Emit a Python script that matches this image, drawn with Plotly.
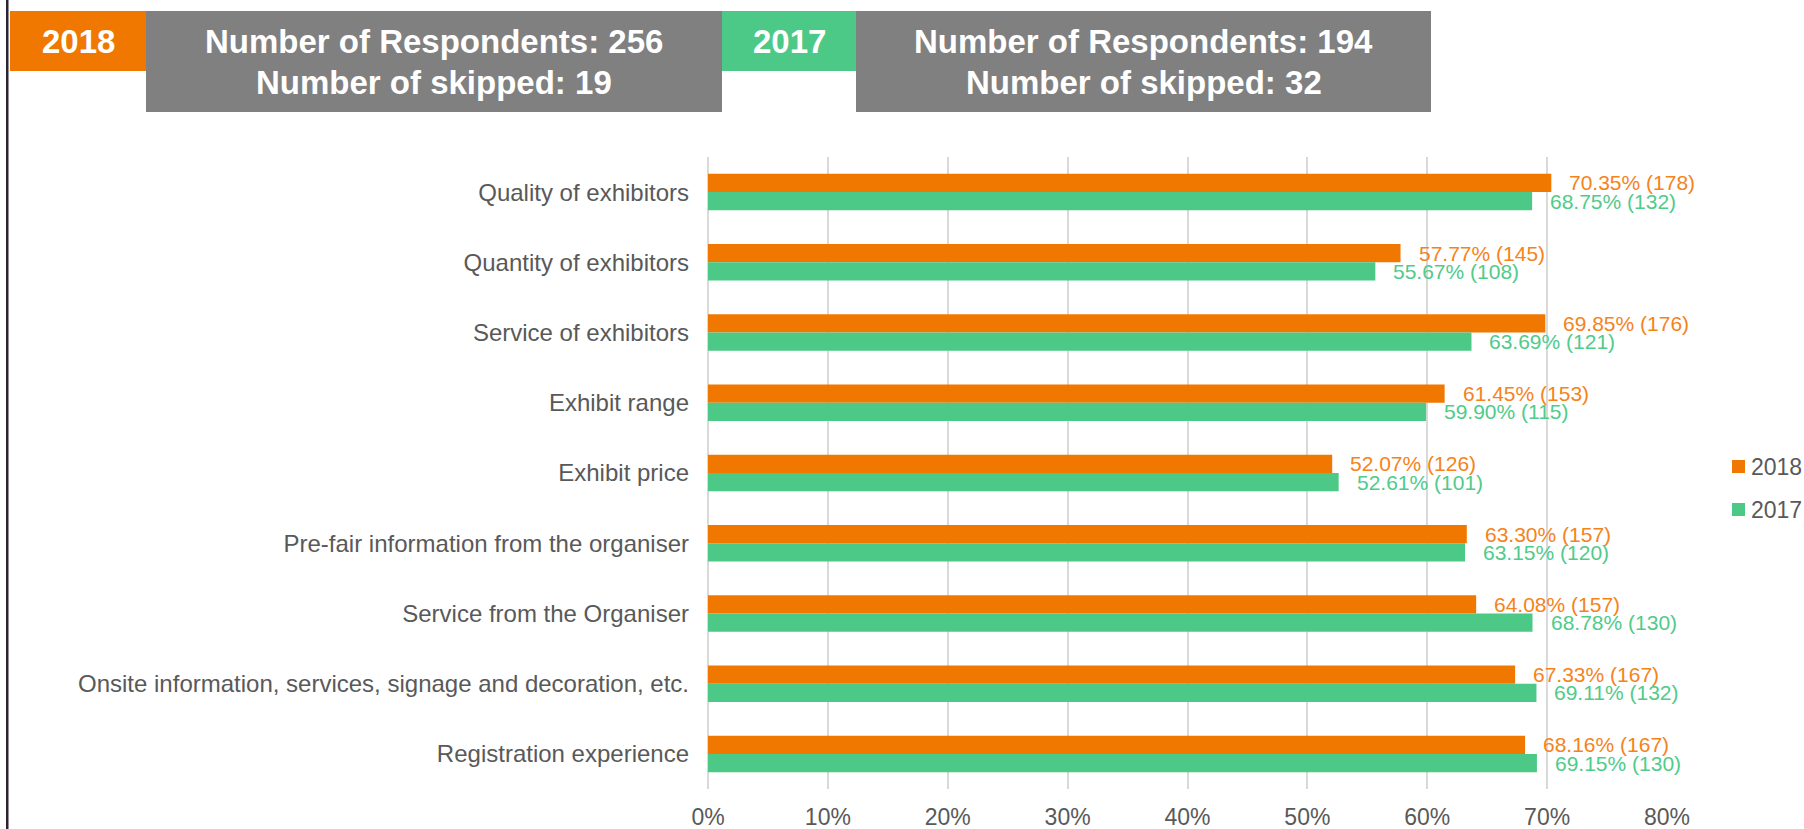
import plotly.graph_objects as go

# Survey satisfaction items, listed top to bottom
categories = [
    "Quality of exhibitors",
    "Quantity of exhibitors",
    "Service of exhibitors",
    "Exhibit range",
    "Exhibit price",
    "Pre-fair information from the organiser",
    "Service from the Organiser",
    "Onsite information, services, signage and decoration, etc.",
    "Registration experience",
]

pct_2018 = [70.35, 57.77, 69.85, 61.45, 52.07, 63.30, 64.08, 67.33, 68.16]
cnt_2018 = [178, 145, 176, 153, 126, 157, 157, 167, 167]

pct_2017 = [68.75, 55.67, 63.69, 59.90, 52.61, 63.15, 68.78, 69.11, 69.15]
cnt_2017 = [132, 108, 121, 115, 101, 120, 130, 132, 130]

tick_values = [0, 10, 20, 30, 40, 50, 60, 70, 80]
tick_labels = ["0%", "10%", "20%", "30%", "40%", "50%", "60%", "70%", "80%"]

years = ["2018", "2017"]
respondents = {"2018": 256, "2017": 194}
skipped = {"2018": 19, "2017": 32}

ORANGE = "#F07800"
GREEN = "#4CC986"
ORANGE_TXT = "#F5831A"
GREEN_TXT = "#4FCB8A"
GREY_BOX = "#808080"
TEXT_GREY = "#595959"
FONT = "Liberation Sans, Arial, sans-serif"

W, H = 1804, 829
ML, MR, MT, MB = 708, 137, 157, 40
PW, PH = W - ML - MR, H - MT - MB
BARGAP = 0.48


def px_x(x):
    return (x - ML) / PW


def px_y(y):
    return 1 - (y - MT) / PH


fig = go.Figure()
fig.add_trace(go.Bar(
    name="2018", y=categories, x=pct_2018, orientation="h",
    marker=dict(color=ORANGE, line=dict(width=0)),
    hoverinfo="skip", showlegend=False,
))
fig.add_trace(go.Bar(
    name="2017", y=categories, x=pct_2017, orientation="h",
    marker=dict(color=GREEN, line=dict(width=0)),
    hoverinfo="skip", showlegend=False,
))

# value labels just right of each bar, centred on its own bar
band = PH / len(categories)
half_bar = band * (1 - BARGAP) / 4
annotations = []
for pcts, cnts, colour, shift in [
    (pct_2018, cnt_2018, ORANGE_TXT, half_bar),
    (pct_2017, cnt_2017, GREEN_TXT, -half_bar),
]:
    for cat, p, n in zip(categories, pcts, cnts):
        annotations.append(dict(
            xref="x", yref="y", x=p, y=cat, text=f"{p:.2f}% ({n})",
            showarrow=False, xanchor="left", yanchor="middle",
            xshift=16, yshift=shift,
            font=dict(family=FONT, size=21, color=colour)))

shapes = [
    # dark frame line on the left edge
    dict(type="rect", xref="paper", yref="paper",
         x0=px_x(6), x1=px_x(8.5), y0=px_y(829), y1=px_y(0),
         fillcolor="#2B2233", line=dict(width=0), layer="above"),
    # header boxes
    dict(type="rect", xref="paper", yref="paper",
         x0=px_x(10), x1=px_x(146), y0=px_y(71), y1=px_y(11),
         fillcolor=ORANGE, line=dict(width=0)),
    dict(type="rect", xref="paper", yref="paper",
         x0=px_x(146), x1=px_x(722), y0=px_y(112), y1=px_y(11),
         fillcolor=GREY_BOX, line=dict(width=0)),
    dict(type="rect", xref="paper", yref="paper",
         x0=px_x(722), x1=px_x(856), y0=px_y(71), y1=px_y(11),
         fillcolor=GREEN, line=dict(width=0)),
    dict(type="rect", xref="paper", yref="paper",
         x0=px_x(856), x1=px_x(1431), y0=px_y(112), y1=px_y(11),
         fillcolor=GREY_BOX, line=dict(width=0)),
]

hdr_font = dict(family=FONT, size=33, color="white")
for year, (bx0, bx1, gx0, gx1) in zip(years, [(10, 146, 146, 722),
                                             (722, 856, 856, 1431)]):
    annotations.append(dict(
        xref="paper", yref="paper", x=px_x((bx0 + bx1) / 2), y=px_y(42),
        text=f"<b>{year}</b>", showarrow=False, font=hdr_font,
        xanchor="center", yanchor="middle"))
    annotations.append(dict(
        xref="paper", yref="paper", x=px_x((gx0 + gx1) / 2), y=px_y(42),
        text=f"<b>Number of Respondents: {respondents[year]}</b>",
        showarrow=False, font=hdr_font, xanchor="center", yanchor="middle"))
    annotations.append(dict(
        xref="paper", yref="paper", x=px_x((gx0 + gx1) / 2), y=px_y(82),
        text=f"<b>Number of skipped: {skipped[year]}</b>",
        showarrow=False, font=hdr_font, xanchor="center", yanchor="middle"))

# legend: coloured square followed by the year
for year, colour, top in zip(years, [ORANGE, GREEN], [460, 503]):
    shapes.append(dict(
        type="rect", xref="paper", yref="paper",
        x0=px_x(1732), x1=px_x(1745), y0=px_y(top + 13), y1=px_y(top),
        fillcolor=colour, line=dict(width=0)))
    annotations.append(dict(
        xref="paper", yref="paper", x=px_x(1749), y=px_y(top + 7),
        text=year, showarrow=False, xanchor="left", yanchor="middle",
        font=dict(family=FONT, size=23, color=TEXT_GREY)))

fig.update_layout(
    width=W, height=H,
    margin=dict(l=ML, r=MR, t=MT, b=MB, autoexpand=False),
    paper_bgcolor="white", plot_bgcolor="white",
    barmode="group", bargap=BARGAP, bargroupgap=0,
    font=dict(family=FONT, color=TEXT_GREY),
    xaxis=dict(
        range=[0, 80], tickvals=tick_values, ticktext=tick_labels,
        showgrid=True, gridcolor="#D9D9D9", gridwidth=1.5,
        zeroline=True, zerolinecolor="#D9D9D9", zerolinewidth=1.5,
        showline=False, ticks="", ticklabelstandoff=12,
        tickfont=dict(size=23, color=TEXT_GREY, family=FONT),
        fixedrange=True,
    ),
    yaxis=dict(
        autorange="reversed", showgrid=False, zeroline=False,
        showline=False, ticks="", ticklabelstandoff=18,
        tickfont=dict(size=24, color=TEXT_GREY, family=FONT),
        fixedrange=True,
    ),
    shapes=shapes,
    annotations=annotations,
    showlegend=False,
)

fig.write_html("out.html", config={"displayModeBar": False})
